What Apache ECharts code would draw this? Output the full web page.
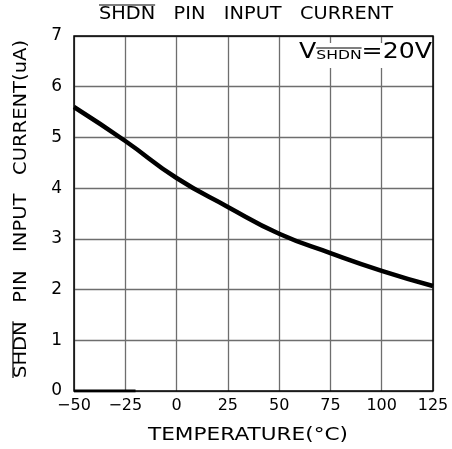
<!DOCTYPE html>
<html>
<head>
<meta charset="utf-8">
<script src="https://cdn.jsdelivr.net/npm/echarts@6/dist/echarts.min.js"></script>
<style>
  html, body { margin: 0; padding: 0; background: #fff; }
  #chart { width: 452px; height: 449px; }
</style>
</head>
<body>
<div id="chart"></div>
<script>
// temperature (°C) vs SHDN pin input current (uA)
var temps = [-50, -25, 0, 25, 50, 75, 100, 125];
var current = [5.6, 4.93, 4.2, 3.63, 3.1, 2.72, 2.37, 2.07];
// short heavy stretch of the bottom axis in the original drawing
var baseSegment = [[-50, 0], [-20, 0]];
var xTicks = [-50, -25, 0, 25, 50, 75, 100, 125];
var yTicks = [0, 1, 2, 3, 4, 5, 6, 7];

var font = 'DejaVu Sans';
var GL = 74, GT = 36, GW = 359, GH = 355;

// canvas text width, used to stretch the labels to the drawing's wide lettering
var ctx = document.createElement('canvas').getContext('2d');
function measure(text, size) {
    ctx.font = size + 'px "' + font + '"';
    return ctx.measureText(text).width;
}

// text with a bar over its first word, stretched to a given width
function barLabel(first, rest, size, width, x, y, rot) {
    var full = first + rest;
    var s = width / measure(full, size);
    var wFirst = measure(first, size);
    return {
        type: 'group',
        x: x, y: y, rotation: rot || 0, scaleX: s,
        children: [{
            type: 'text',
            style: {text: full, x: 0, y: 0, fill: '#000', font: size + 'px "' + font + '"',
                align: 'left', verticalAlign: 'middle'}
        }, {
            type: 'line',
            shape: {x1: 0, y1: -size * 0.5, x2: wFirst, y2: -size * 0.5},
            style: {stroke: '#000', lineWidth: 1.2}
        }]
    };
}

function plainLabel(text, size, width, cx, cy) {
    var s = width / measure(text, size);
    return {
        type: 'group', x: cx, y: cy, scaleX: s,
        children: [{
            type: 'text',
            style: {text: text, x: 0, y: 0, fill: '#000', font: size + 'px "' + font + '"',
                align: 'center', verticalAlign: 'middle'}
        }]
    };
}

// V(SHDN)=20V note in the upper right
function noteLabel() {
    var big = 21, small = 13;
    var w1 = measure('V', big), w2 = measure('SHDN', small), w3 = measure('=20V', big);
    var s = 133 / (w1 + w2 + w3);
    return {
        type: 'group', x: 299, y: 53, scaleX: s,
        children: [{
            type: 'text', z: 11,
            style: {text: 'V', x: 0, y: 0, fill: '#000', font: big + 'px "' + font + '"',
                align: 'left', verticalAlign: 'middle'}
        }, {
            type: 'text', z: 11,
            style: {text: 'SHDN', x: w1, y: 3, fill: '#000', font: small + 'px "' + font + '"',
                align: 'left', verticalAlign: 'middle'}
        }, {
            type: 'line', z: 11,
            shape: {x1: w1, y1: -5, x2: w1 + w2, y2: -5},
            style: {stroke: '#000', lineWidth: 1.2}
        }, {
            type: 'text', z: 11,
            style: {text: '=20V', x: w1 + w2, y: 0, fill: '#000', font: big + 'px "' + font + '"',
                align: 'left', verticalAlign: 'middle'}
        }]
    };
}

var myChart = echarts.init(document.getElementById('chart'));
var option = {
    animation: false,
    backgroundColor: '#fff',
    grid: {left: GL, top: GT, width: GW, height: GH},
    xAxis: {
        type: 'value',
        min: xTicks[0],
        max: xTicks[xTicks.length - 1],
        interval: 25,
        axisLine: {show: false},
        axisTick: {show: false},
        axisLabel: {
            fontFamily: font, fontSize: 16, color: '#000', margin: 7,
            formatter: function (v) { return String(v).replace('-', '\u2212'); }
        },
        splitLine: {show: true, lineStyle: {color: '#6e6e6e', width: 1.3}}
    },
    yAxis: {
        type: 'value',
        min: yTicks[0],
        max: yTicks[yTicks.length - 1],
        interval: 1,
        axisLine: {show: false},
        axisTick: {show: false},
        axisLabel: {fontFamily: font, fontSize: 17, color: '#000', margin: 12,
            verticalAlign: 'middle', padding: [0, 0, 6, 0]},
        splitLine: {show: true, lineStyle: {color: '#6e6e6e', width: 1.3}}
    },
    graphic: [
        barLabel('SHDN', '   PIN   INPUT   CURRENT', 18, 294, 99, 14),
        barLabel('SHDN', '   PIN   INPUT   CURRENT(uA)', 17, 338, 21.5, 378, Math.PI / 2),
        plainLabel('TEMPERATURE(°C)', 18, 200, 248, 435),
        {
            type: 'rect', z: 10,
            shape: {x: 296, y: 43, width: 136, height: 25},
            style: {fill: '#fff'}
        },
        noteLabel(),
        {
            type: 'rect', z: 12,
            shape: {x: GL, y: GT, width: GW, height: GH},
            style: {fill: 'none', stroke: '#000', lineWidth: 1.5}
        }
    ],
    series: [{
        type: 'line',
        data: temps.map(function (t, i) { return [t, current[i]]; }),
        smooth: true,
        symbol: 'none',
        lineStyle: {color: '#000', width: 4.5}
    }, {
        type: 'line',
        data: baseSegment,
        symbol: 'none',
        lineStyle: {color: '#000', width: 3}
    }]
};
myChart.setOption(option);
</script>
</body>
</html>
